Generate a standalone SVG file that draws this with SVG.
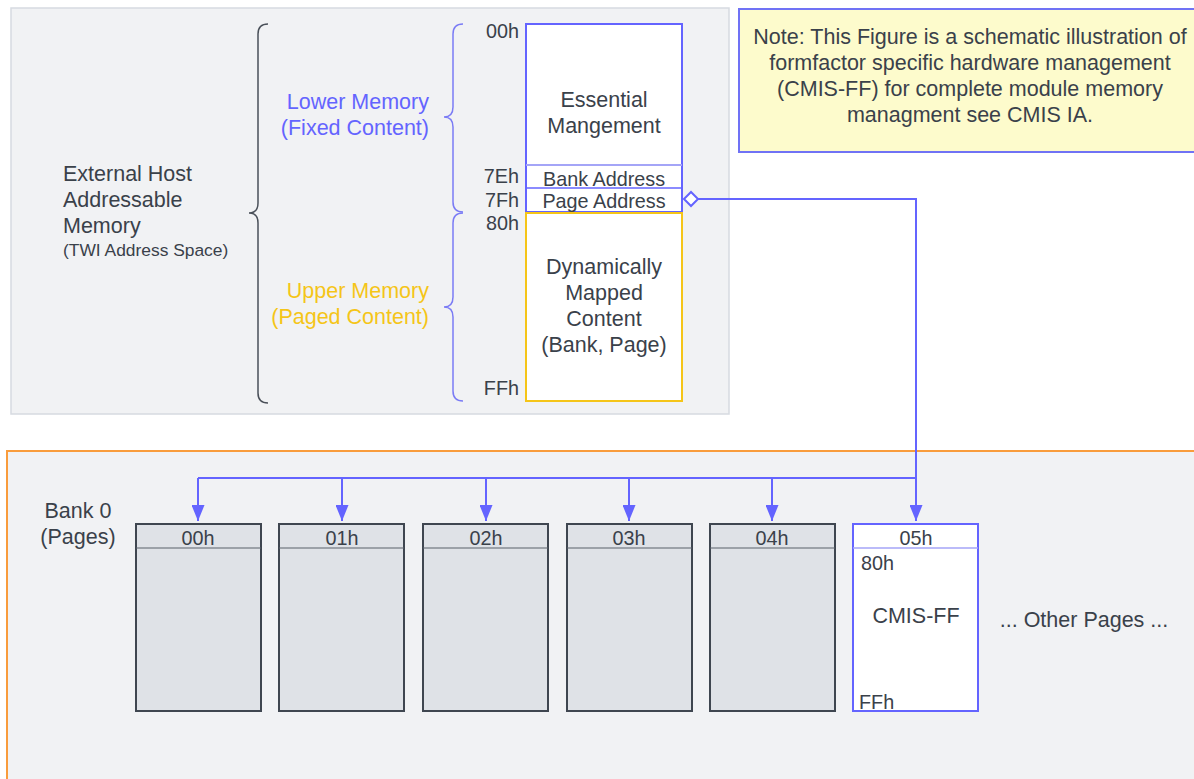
<svg xmlns="http://www.w3.org/2000/svg" width="1194" height="779" viewBox="0 0 1194 779">
<style>
text{font-family:"Liberation Sans",Arial,sans-serif;fill:#3a414a}
.t20{font-size:21.5px}
.t18{font-size:19.8px}
.t15{font-size:17.4px}
.mid{text-anchor:middle}
.end{text-anchor:end}
.page{fill:#dfe2e7;stroke:#3f4650;stroke-width:2}
.hdr{stroke:#5a616b;stroke-width:1.2}
.conn{fill:none;stroke:#6464ff;stroke-width:2}
</style>
<defs>
<marker id="arr" markerWidth="16" markerHeight="13" refX="16" refY="6.5" orient="auto" markerUnits="userSpaceOnUse" viewBox="0 0 16 13">
<path d="M0,0 L16,6.5 L0,13 Z" fill="#6464ff"/>
</marker>
</defs>
<rect width="1194" height="779" fill="#ffffff"/>
<g id="host-panel">
<rect x="11" y="8" width="718" height="406" fill="#f1f2f4" stroke="#d6dae1" stroke-width="1.5"/>
<text class="t20" x="63" y="181">External Host</text>
<text class="t20" x="63" y="207">Addressable</text>
<text class="t20" x="63" y="233">Memory</text>
<text class="t15" x="63" y="256">(TWI Address Space)</text>
<path d="M268,24 Q258,24 258,34 L258,203 Q258,213 249,213 Q258,213 258,223 L258,393 Q258,403 268,403" fill="none" stroke="#4a5059" stroke-width="1.5"/>
<path d="M463,24 Q453,24 453,34 L453,107 Q453,117 444,117 Q453,117 453,127 L453,202 Q453,212 463,212" fill="none" stroke="#7b7cf5" stroke-width="1.5"/>
<path d="M463,213 Q453,213 453,223 L453,297 Q453,307 444,307 Q453,307 453,317 L453,391 Q453,401 463,401" fill="none" stroke="#7b7cf5" stroke-width="1.5"/>
<text class="t20 end" x="429" y="109" style="fill:#6464ff">Lower Memory</text>
<text class="t20 end" x="429" y="135" style="fill:#6464ff">(Fixed Content)</text>
<text class="t20 end" x="429" y="298" style="fill:#f5c518">Upper Memory</text>
<text class="t20 end" x="429" y="324" style="fill:#f5c518">(Paged Content)</text>
<text class="t18 end" x="519" y="38">00h</text>
<text class="t18 end" x="519" y="183">7Eh</text>
<text class="t18 end" x="519" y="207">7Fh</text>
<text class="t18 end" x="519" y="230">80h</text>
<text class="t18 end" x="519" y="395">FFh</text>
</g>
<g id="lower-memory">
<rect x="526" y="24" width="156" height="188" fill="#ffffff" stroke="#6464ff" stroke-width="2"/>
<line x1="526" y1="165" x2="682" y2="165" stroke="#a4a5f7" stroke-width="2"/>
<line x1="526" y1="188" x2="682" y2="188" stroke="#6464ff" stroke-width="1.5"/>
<text class="t20 mid" x="604" y="107">Essential</text>
<text class="t20 mid" x="604" y="133">Mangement</text>
<text class="t18 mid" x="604" y="186">Bank Address</text>
<text class="t18 mid" x="604" y="208">Page Address</text>
</g>
<g id="upper-memory">
<rect x="526" y="213" width="156" height="188" fill="#ffffff" stroke="#f5c518" stroke-width="2"/>
<text class="t20 mid" x="604" y="274">Dynamically</text>
<text class="t20 mid" x="604" y="300">Mapped</text>
<text class="t20 mid" x="604" y="326">Content</text>
<text class="t20 mid" x="604" y="352">(Bank, Page)</text>
</g>
<g id="note">
<rect x="739" y="9" width="470" height="143" fill="#fdfbcc" stroke="#7072f5" stroke-width="2"/>
<text class="t20 mid" x="970" y="44">Note: This Figure is a schematic illustration of</text>
<text class="t20 mid" x="970" y="70">formfactor specific hardware management</text>
<text class="t20 mid" x="970" y="96">(CMIS-FF) for complete module memory</text>
<text class="t20 mid" x="970" y="122">managment see CMIS IA.</text>
</g>
<g id="bank0">
<rect x="7" y="451" width="1200" height="340" fill="#f1f2f4" stroke="#f99c3c" stroke-width="2"/>
<text class="t20 mid" x="78" y="518">Bank 0</text>
<text class="t20 mid" x="78" y="544">(Pages)</text>
<text class="t20 mid" x="1084" y="627">... Other Pages ...</text>
</g>
<g id="page-00"><rect class="page" x="136" y="524" width="125" height="187"/><line class="hdr" x1="136" y1="548" x2="261" y2="548"/><text class="t18 mid" x="198" y="545">00h</text></g>
<g id="page-01"><rect class="page" x="279" y="524" width="125" height="187"/><line class="hdr" x1="279" y1="548" x2="404" y2="548"/><text class="t18 mid" x="342" y="545">01h</text></g>
<g id="page-02"><rect class="page" x="423" y="524" width="125" height="187"/><line class="hdr" x1="423" y1="548" x2="548" y2="548"/><text class="t18 mid" x="486" y="545">02h</text></g>
<g id="page-03"><rect class="page" x="567" y="524" width="125" height="187"/><line class="hdr" x1="567" y1="548" x2="692" y2="548"/><text class="t18 mid" x="629" y="545">03h</text></g>
<g id="page-04"><rect class="page" x="710" y="524" width="125" height="187"/><line class="hdr" x1="710" y1="548" x2="835" y2="548"/><text class="t18 mid" x="772" y="545">04h</text></g>
<g id="page-05">
<rect x="853" y="524" width="125" height="187" fill="#ffffff" stroke="#6464ff" stroke-width="2"/>
<line x1="853" y1="548" x2="978" y2="548" stroke="#a4a5f7" stroke-width="1.5"/>
<text class="t18 mid" x="916" y="545">05h</text>
<text class="t18" x="861" y="570">80h</text>
<text class="t20 mid" x="916" y="623">CMIS-FF</text>
<text class="t18" x="859" y="709">FFh</text>
</g>
<g id="connectors">
<path class="conn" d="M698,199 L916,199 L916,478"/>
<path d="M684,199 L691,192 L698,199 L691,206 Z" fill="#ffffff" stroke="#6464ff" stroke-width="2"/>
<path class="conn" d="M916,478 L198,478"/>
<path class="conn" d="M198,478 L198,521" marker-end="url(#arr)"/>
<path class="conn" d="M342,478 L342,521" marker-end="url(#arr)"/>
<path class="conn" d="M486,478 L486,521" marker-end="url(#arr)"/>
<path class="conn" d="M629,478 L629,521" marker-end="url(#arr)"/>
<path class="conn" d="M772,478 L772,521" marker-end="url(#arr)"/>
<path class="conn" d="M916,478 L916,521" marker-end="url(#arr)"/>
</g>
</svg>
